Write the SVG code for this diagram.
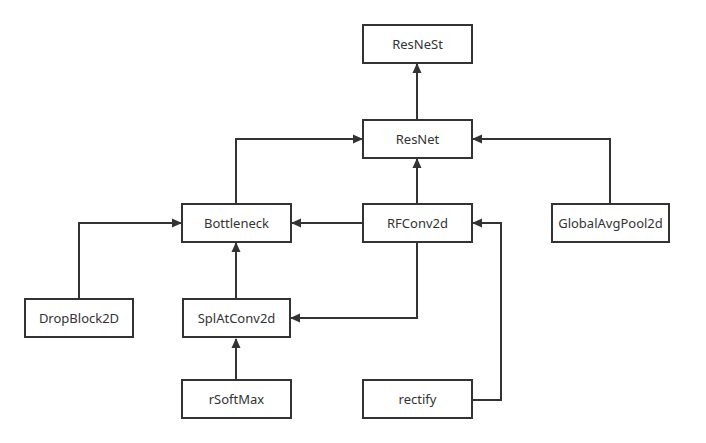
<svg xmlns="http://www.w3.org/2000/svg" width="706" height="443" viewBox="0 0 706 443">
<style>
.box{fill:#fff;stroke:#333;stroke-width:2}
.lbl{font-family:"Noto Sans","Open Sans",sans-serif;font-size:13px;fill:#333;text-anchor:middle;dominant-baseline:central}
.edge{fill:none;stroke:#333;stroke-width:2}
</style>
<defs>
<marker id="arr" markerWidth="10" markerHeight="10" refX="9" refY="5" orient="auto" markerUnits="userSpaceOnUse">
<path d="M0,0.5 L10,5 L0,9.5 Z" fill="#333"/>
</marker>
</defs>
<rect width="706" height="443" fill="#fff"/>
<g id="connectors">
<path class="edge" d="M417,120 V64" marker-end="url(#arr)"/>
<path class="edge" d="M417,204 V159" marker-end="url(#arr)"/>
<path class="edge" d="M236,204 V139 H362" marker-end="url(#arr)"/>
<path class="edge" d="M610,203 V139 H473" marker-end="url(#arr)"/>
<path class="edge" d="M363,223 H292" marker-end="url(#arr)"/>
<path class="edge" d="M79,299 V223 H181" marker-end="url(#arr)"/>
<path class="edge" d="M236,299 V243" marker-end="url(#arr)"/>
<path class="edge" d="M417,242 V318 H291" marker-end="url(#arr)"/>
<path class="edge" d="M236,380 V339" marker-end="url(#arr)"/>
<path class="edge" d="M472,400 H501 V223 H473" marker-end="url(#arr)"/>
</g>
<g id="ResNeSt"><rect class="box" x="363" y="25" width="109" height="38"/><text class="lbl" x="417.5" y="44">ResNeSt</text></g>
<g id="ResNet"><rect class="box" x="363" y="120" width="109" height="38"/><text class="lbl" x="417.5" y="139">ResNet</text></g>
<g id="Bottleneck"><rect class="box" x="182" y="204" width="109" height="38"/><text class="lbl" x="236.5" y="223">Bottleneck</text></g>
<g id="RFConv2d"><rect class="box" x="363" y="204" width="109" height="38"/><text class="lbl" x="417.5" y="223">RFConv2d</text></g>
<g id="GlobalAvgPool2d"><rect class="box" x="552" y="204" width="117" height="38"/><text class="lbl" x="610.5" y="223">GlobalAvgPool2d</text></g>
<g id="DropBlock2D"><rect class="box" x="25" y="299" width="108" height="38"/><text class="lbl" x="79" y="318">DropBlock2D</text></g>
<g id="SplAtConv2d"><rect class="box" x="183" y="299" width="107" height="38"/><text class="lbl" x="236.5" y="318">SplAtConv2d</text></g>
<g id="rSoftMax"><rect class="box" x="182" y="380" width="109" height="38"/><text class="lbl" x="236.5" y="399">rSoftMax</text></g>
<g id="rectify"><rect class="box" x="363" y="380" width="109" height="38"/><text class="lbl" x="417.5" y="399">rectify</text></g>
</svg>
